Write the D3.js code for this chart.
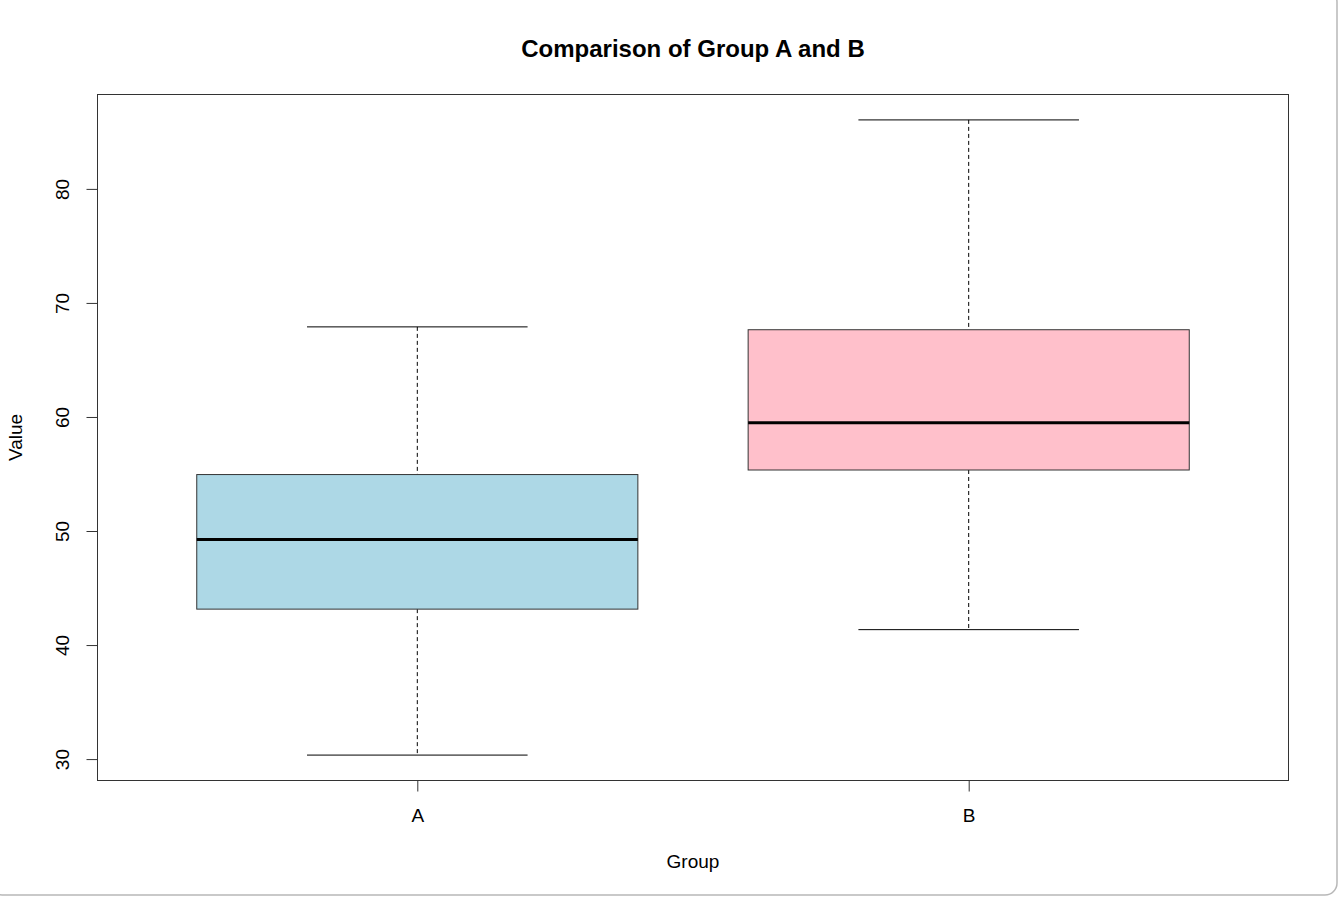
<!DOCTYPE html>
<html><head><meta charset="utf-8">
<script src="https://cdn.jsdelivr.net/npm/d3@7"></script>
<style>html,body{margin:0;padding:0;background:#fff;}svg{display:block;font-family:"Liberation Sans",Arial,sans-serif;}</style>
</head><body>
<script>
const groups = ["A", "B"];
const whiskerLow = [30.35, 41.35];
const q1 = [43.15, 55.35];
const median = [49.25, 59.5];
const q3 = [54.95, 67.65];
const whiskerHigh = [67.9, 86.05];
const fills = ["#ADD8E6", "#FFC0CB"];
const yTicks = [30, 40, 50, 60, 70, 80];

(function () {
const W = 1338, H = 897;
const FS = 19;
const svg = d3.select("body").append("svg").attr("width", W).attr("height", H);
svg.append("rect").attr("x", -10).attr("y", -10).attr("width", W + 9).attr("height", H + 8)
  .attr("rx", 12).attr("fill", "#fff").attr("stroke", "#b8b8b8").attr("stroke-width", 1.5);

const pL = 97.5, pR = 1288.5, pT = 94.5, pB = 780.5;
const lo = d3.min(whiskerLow), hi = d3.max(whiskerHigh), ext = (hi - lo) * 0.04;
const y = d3.scaleLinear().domain([lo - ext, hi + ext]).range([pB, pT]);
const x = d3.scaleLinear().domain([0.42, 2.58]).range([pL, pR]);
const boxHalf = 0.4, capHalf = 0.2;

const data = groups.map((g, i) => ({g, i: i + 1, lo: whiskerLow[i], q1: q1[i], med: median[i], q3: q3[i], hi: whiskerHigh[i], fill: fills[i]}));

const gB = svg.selectAll("g.box").data(data).enter().append("g").attr("class", "box");
gB.append("line").attr("x1", d => x(d.i)).attr("x2", d => x(d.i)).attr("y1", d => y(d.hi)).attr("y2", d => y(d.q3))
  .attr("stroke", "#000").attr("stroke-dasharray", "4,3");
gB.append("line").attr("x1", d => x(d.i)).attr("x2", d => x(d.i)).attr("y1", d => y(d.q1)).attr("y2", d => y(d.lo))
  .attr("stroke", "#000").attr("stroke-dasharray", "4,3");
gB.append("line").attr("x1", d => x(d.i - capHalf)).attr("x2", d => x(d.i + capHalf)).attr("y1", d => y(d.hi)).attr("y2", d => y(d.hi)).attr("stroke", "#000");
gB.append("line").attr("x1", d => x(d.i - capHalf)).attr("x2", d => x(d.i + capHalf)).attr("y1", d => y(d.lo)).attr("y2", d => y(d.lo)).attr("stroke", "#000");
gB.append("rect").attr("x", d => x(d.i - boxHalf)).attr("width", d => x(d.i + boxHalf) - x(d.i - boxHalf))
  .attr("y", d => y(d.q3)).attr("height", d => y(d.q1) - y(d.q3))
  .attr("fill", d => d.fill).attr("stroke", "#333").attr("stroke-width", 1);
gB.append("line").attr("x1", d => x(d.i - boxHalf)).attr("x2", d => x(d.i + boxHalf)).attr("y1", d => y(d.med)).attr("y2", d => y(d.med))
  .attr("stroke", "#000").attr("stroke-width", 3);

svg.append("rect").attr("x", pL).attr("y", pT).attr("width", pR - pL).attr("height", pB - pT)
  .attr("fill", "none").attr("stroke", "#333").attr("stroke-width", 1);

const yAx = svg.append("g").attr("transform", `translate(${pL},0)`)
  .call(d3.axisLeft(y).tickValues(yTicks).tickSize(11).tickFormat(d3.format("d")));
yAx.select(".domain").remove();
yAx.selectAll("line").attr("stroke", "#333");
yAx.selectAll(".tick text").attr("x", null).attr("dy", null).attr("y", 0)
  .attr("transform", "translate(-35,0) rotate(-90)").attr("text-anchor", "middle")
  .attr("dominant-baseline", "central")
  .attr("font-size", FS).attr("fill", "#000").attr("font-family", "Liberation Sans, Arial, sans-serif");

const xAx = svg.append("g").attr("transform", `translate(0,${pB})`)
  .call(d3.axisBottom(x).tickValues([1, 2]).tickSize(11).tickFormat(d => groups[d - 1]));
xAx.select(".domain").remove();
xAx.selectAll("line").attr("stroke", "#333");
xAx.selectAll("text").attr("font-size", FS).attr("fill", "#000").attr("font-family", "Liberation Sans, Arial, sans-serif")
  .attr("y", 41.5).attr("dy", null);

svg.append("text").attr("x", (pL + pR) / 2).attr("y", 57).attr("text-anchor", "middle")
  .attr("font-size", 24).attr("font-weight", "bold").text("Comparison of Group A and B");
svg.append("text").attr("x", (pL + pR) / 2).attr("y", 868).attr("text-anchor", "middle")
  .attr("font-size", FS).text("Group");
svg.append("text").attr("transform", `translate(15,${(pT + pB) / 2}) rotate(-90)`).attr("text-anchor", "middle")
  .attr("dominant-baseline", "central")
  .attr("font-size", FS).text("Value");
})();
</script>
</body></html>
